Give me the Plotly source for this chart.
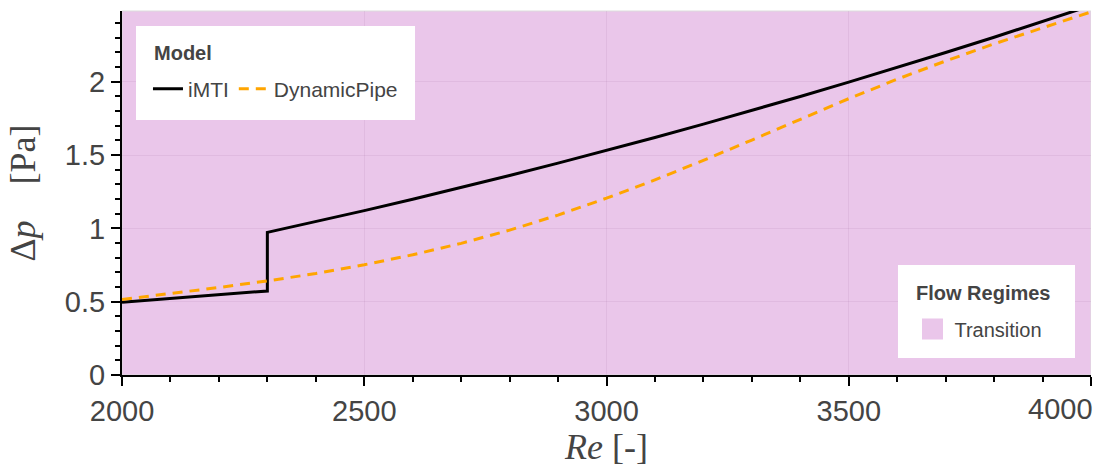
import plotly.graph_objects as go

# Reynolds number samples
re_lam = [2000, 2100, 2200, 2300]
re_turb = [2300, 2400, 2500, 2600, 2700, 2800, 2900, 3000, 3100, 3200,
           3300, 3400, 3500, 3600, 3700, 3800, 3900, 4000]
re_dyn = [2000, 2100, 2200, 2300, 2400, 2500, 2600, 2700, 2800, 2900, 3000,
          3100, 3200, 3300, 3400, 3500, 3600, 3700, 3800, 3900, 4000]

# Pressure drop [Pa]
dp_imti_lam = [0.497, 0.522, 0.548, 0.573]
dp_imti_turb = [0.973, 1.046, 1.121, 1.199, 1.279, 1.361, 1.445, 1.531, 1.620,
                1.711, 1.804, 1.900, 1.998, 2.098, 2.200, 2.304, 2.411, 2.520]
dp_dynamic = [0.515, 0.555, 0.597, 0.642, 0.692, 0.752, 0.820, 0.898, 0.988,
              1.091, 1.206, 1.331, 1.464, 1.603, 1.745, 1.885, 2.018, 2.142,
              2.259, 2.370, 2.477]

# Flow regime bands
regime_names = ["Transition"]
regime_start = [2000]
regime_end = [4000]
regime_colors = ["#EAC6EA"]

# Axis ticks
x_ticks = [2000, 2500, 3000, 3500, 4000]
y_ticks = [0, 0.5, 1, 1.5, 2]

re_imti = re_lam + re_turb
dp_imti = dp_imti_lam + dp_imti_turb

fig = go.Figure()

for name, x0, x1, col in zip(regime_names, regime_start, regime_end, regime_colors):
    fig.add_shape(type="rect", xref="x", yref="paper", x0=x0, x1=x1, y0=0, y1=1,
                  fillcolor=col, line=dict(color="#dcdcdc", width=1), layer="below")
    fig.add_trace(go.Scatter(
        x=[None], y=[None], mode="markers", name=name, legend="legend2",
        marker=dict(symbol="square", size=16, color=col,
                    line=dict(color=col, width=9)),
    ))

fig.add_trace(go.Scatter(
    x=re_imti, y=dp_imti, mode="lines", name="iMTI", legend="legend",
    line=dict(color="black", width=3),
))
fig.add_trace(go.Scatter(
    x=re_dyn, y=dp_dynamic, mode="lines", name="DynamicPipe", legend="legend",
    line=dict(color="orange", width=3, dash="10px,7px"),
))

# white panels behind the two legends
for bx0, bx1, by0, by1 in [(0.01445, 0.3024, 0.7005, 0.9588),
                           (0.8008, 0.9835, 0.0467, 0.3022)]:
    fig.add_shape(type="rect", xref="paper", yref="paper",
                  x0=bx0, x1=bx1, y0=by0, y1=by1,
                  fillcolor="white", line=dict(width=0), layer="above")

tick_font = dict(family="Liberation Sans, Arial, sans-serif", size=29, color="#444")
title_font = dict(family="Liberation Serif, Times New Roman, serif", size=36, color="#444")
legend_title_font = dict(family="Liberation Sans, Arial, sans-serif", size=20, color="#444")
grid = "rgba(160,110,160,0.14)"

# legend headings
fig.add_annotation(text="<b>Model</b>", x=0.031, y=0.8846, xref="paper", yref="paper",
                   xanchor="left", yanchor="middle", showarrow=False,
                   font=legend_title_font)
fig.add_annotation(text="<b>Flow Regimes</b>", x=0.8174, y=0.2253, xref="paper", yref="paper",
                   xanchor="left", yanchor="middle", showarrow=False,
                   font=legend_title_font)

# last x label sits flush with the right end of the axis
x_text = [str(v) for v in x_ticks]
fig.add_annotation(text=x_text[-1], x=x_ticks[-1], xref="x", y=0, yref="paper",
                   xanchor="right", yanchor="top", showarrow=False,
                   xshift=4, yshift=-16, font=tick_font)
x_text[-1] = ""

fig.update_layout(
    width=1104, height=468,
    margin=dict(l=122, r=13, t=11, b=93),
    paper_bgcolor="white",
    plot_bgcolor="white",
    font=dict(family="Liberation Sans, Arial, sans-serif", color="#444"),
    legend=dict(
        orientation="h", x=0.0268, y=0.7857, xanchor="left", yanchor="middle",
        bgcolor="rgba(0,0,0,0)", borderwidth=0,
        font=dict(size=21, color="#444"),
        itemwidth=30,
    ),
    legend2=dict(
        x=0.8137, y=0.1264, xanchor="left", yanchor="middle",
        bgcolor="rgba(0,0,0,0)", borderwidth=0,
        font=dict(size=20, color="#444"),
        itemwidth=34,
    ),
    xaxis=dict(
        range=[2000, 4000], tickvals=x_ticks, ticktext=x_text,
        showline=True, linecolor="black", linewidth=2,
        ticks="outside", ticklen=9, tickwidth=2, tickcolor="black",
        minor=dict(dtick=100, ticks="outside", ticklen=5, tickwidth=1.5,
                   tickcolor="black", showgrid=False),
        showgrid=True, gridcolor=grid, gridwidth=1,
        zeroline=False, tickfont=tick_font,
        title=dict(text="<i>Re</i> [-]", font=title_font, standoff=0),
    ),
    yaxis=dict(
        range=[0, 2.483], tickvals=y_ticks,
        showline=True, linecolor="black", linewidth=2,
        ticks="outside", ticklen=9, tickwidth=2, tickcolor="black",
        minor=dict(dtick=0.1, ticks="outside", ticklen=5, tickwidth=1.5,
                   tickcolor="black", showgrid=False),
        showgrid=True, gridcolor=grid, gridwidth=1,
        zeroline=False, tickfont=tick_font,
        title=dict(text="Δ<i>p</i>\u00a0\u00a0\u00a0\u00a0[Pa]", font=title_font, standoff=18),
    ),
)

fig.write_html("out.html")
